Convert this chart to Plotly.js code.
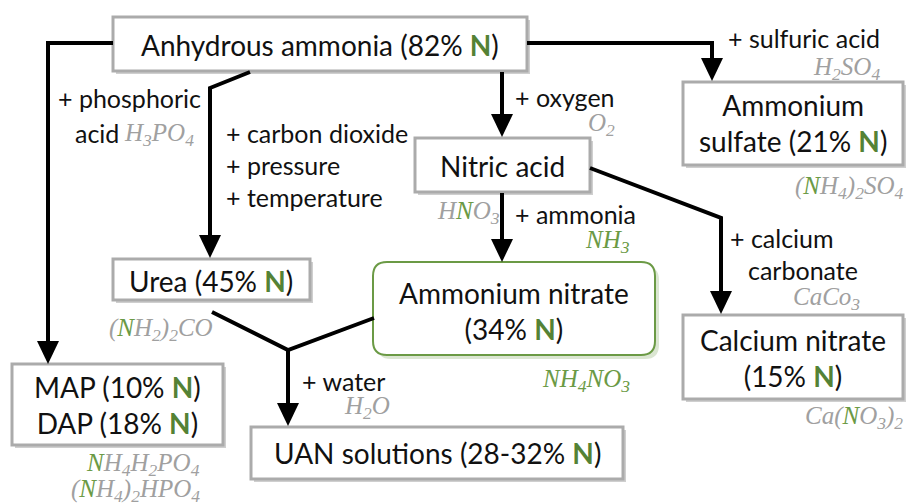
<!DOCTYPE html>
<html><head><meta charset="utf-8">
<script src="https://cdn.plot.ly/plotly-3.0.1.min.js"></script>
<style>body{margin:0;background:#fff}#chart{width:906px;height:504px}</style>
</head><body><div id="chart"></div>
<script>
// ---- data: node names, N content and formulas ----
const nodeNames = ["Anhydrous ammonia", "Ammonium<br>sulfate", "Nitric acid", "Urea", "Ammonium nitrate", "Calcium nitrate", "MAP", "DAP", "UAN solutions"];
const nodeN = ["82%", "21%", "", "45%", "34%", "15%", "10%", "18%", "28-32%"];
const reagentLabels = ["+ phosphoric", "acid", "+ carbon dioxide", "+ pressure", "+ temperature", "+ oxygen", "+ sulfuric acid", "+ ammonia", "+ calcium", "carbonate", "+ water"];
const formulas = ["H3PO4", "O2", "H2SO4", "HNO3", "NH3", "CaCo3", "(NH2)2CO", "NH4NO3", "(NH4)2SO4", "Ca(NO3)2", "NH4H2PO4", "(NH4)2HPO4", "H2O"];

// ---- layout geometry (pixel space) ----
const G = "#548235", GL = "#6b9a45", GR = "#a0a0a0";
const FONT = "Lato, sans-serif", MATH = "'Liberation Serif', serif";
const FS = 28, RS = 25, MS = 25;
const shapes = [], ann = [];
function box(x0, y0, x1, y1) {
  shapes.push({type: "rect", x0: x0 + 3, y0: y0 + 3, x1: x1 + 3, y1: y1 + 3, line: {width: 0}, fillcolor: "#cfcfcf", layer: "below"});
  shapes.push({type: "rect", x0: x0, y0: y0, x1: x1, y1: y1, line: {width: 3, color: "#ababab"}, fillcolor: "#fff", layer: "below"});
}
function rbox(x0, y0, x1, y1, r) {
  const p = (a, b, c, d) => `M${a + r},${b} L${c - r},${b} Q${c},${b} ${c},${b + r} L${c},${d - r} Q${c},${d} ${c - r},${d} L${a + r},${d} Q${a},${d} ${a},${d - r} L${a},${b + r} Q${a},${b} ${a + r},${b} Z`;
  shapes.push({type: "path", path: p(x0 + 4, y0 + 4, x1 + 4, y1 + 4), line: {width: 0}, fillcolor: "#dbe6d2", layer: "below"});
  shapes.push({type: "path", path: p(x0, y0, x1, y1), line: {width: 2, color: GL}, fillcolor: "#fff", layer: "below"});
}
function line(pts) {
  shapes.push({type: "path", path: "M" + pts.map(p => p.join(",")).join(" L"), line: {width: 4, color: "#000"}});
}
function head(x, y) {
  shapes.push({type: "path", path: `M${x - 11},${y - 23} L${x + 11},${y - 23} L${x},${y} Z`, line: {width: 0}, fillcolor: "#000"});
}
function txt(x, y, t, o, size) {
  ann.push(Object.assign({x: x, y: y, text: t, showarrow: false, xanchor: "center", yanchor: "middle", font: {family: FONT, size: size || FS, color: "#111"}}, o || {}));
}
const Nb = `<b><span style="color:${G}">N</span></b>`;
const lab = i => `${nodeNames[i]} (${nodeN[i]} ${Nb})`;
function fm(f, allGreen) {
  let s = "";
  for (let i = 0; i < f.length; i++) {
    const c = f[i];
    if (/[0-9]/.test(c)) s += `<sub>${c}</sub>`;
    else if (c === "N" && !allGreen) s += `<span style="color:${GL}">N</span>`;
    else s += c;
  }
  return `<i>${s}</i>`;
}
function ftx(x, y, f, anchor, allGreen) {
  ann.push({x: x, y: y, text: fm(f, allGreen), showarrow: false, xanchor: anchor, yanchor: "middle", font: {family: MATH, size: MS, color: allGreen ? GL : GR}});
}

// lines & arrows
line([[113, 43], [48, 43], [48, 345]]); head(48, 364);
line([[250, 72], [210, 88], [210, 238]]); head(210, 258);
line([[502, 72], [502, 118]]); head(502, 137);
line([[527, 43], [712, 43], [712, 62]]); head(712, 81);
line([[502, 193], [502, 242]]); head(502, 262);
line([[590, 168], [721, 218], [721, 295]]); head(721, 314);
line([[212, 312], [288, 350], [374, 318]]);
line([[288, 350], [288, 405]]); head(288, 426);

// boxes
box(113, 17, 527, 71);
box(683, 82, 903, 165);
box(415, 138, 590, 192);
box(113, 259, 310, 300);
rbox(373, 262, 655, 355, 14);
box(683, 315, 903, 399);
box(12, 364, 223, 445);
box(251, 427, 623, 479);

// node texts
txt(320, 45, lab(0));
txt(793, 123, lab(1));
txt(502, 166, nodeNames[2]);
txt(211, 281, lab(3));
txt(514, 311, `${nodeNames[4]}<br>(${nodeN[4]} ${Nb})`);
txt(793, 358, `${nodeNames[5]}<br>(${nodeN[5]} ${Nb})`);
txt(117, 405, `${lab(6)}<br>${lab(7)}`);
txt(437, 453, lab(8));

// reagent labels
const L = {xanchor: "left"};
txt(56, 98, reagentLabels[0], L, RS);
txt(73, 133, reagentLabels[1], L, RS);
txt(224, 133, reagentLabels[2], L, RS);
txt(224, 165, reagentLabels[3], L, RS);
txt(224, 197, reagentLabels[4], L, RS);
txt(513, 97, reagentLabels[5], L, RS);
txt(726, 38, reagentLabels[6], L, RS);
txt(513, 214, reagentLabels[7], L, RS);
txt(728, 238, reagentLabels[8], L, RS);
txt(746, 270, reagentLabels[9], L, RS);
txt(300, 381, reagentLabels[10], L, RS);

// formulas
ftx(196, 134, formulas[0], "right");
ftx(617, 124, formulas[1], "right");
ftx(882, 68, formulas[2], "right");
ftx(502, 212, formulas[3], "right");
ftx(632, 241, formulas[4], "right", true);
ftx(862, 298, formulas[5], "right");
ftx(215, 329, formulas[6], "right");
ftx(632, 380, formulas[7], "right", true);
ftx(905, 187, formulas[8], "right");
ftx(905, 417, formulas[9], "right");
ftx(202, 464, formulas[10], "right");
ftx(202, 490, formulas[11], "right");
ftx(392, 407, formulas[12], "right");

const layout = {
  width: 906, height: 504, margin: {l: 0, r: 0, t: 0, b: 0},
  paper_bgcolor: "#fff", plot_bgcolor: "#fff", showlegend: false,
  xaxis: {range: [0, 906], visible: false, fixedrange: true},
  yaxis: {range: [504, 0], visible: false, fixedrange: true},
  shapes: shapes, annotations: ann
};
Plotly.newPlot("chart", [{x: [0], y: [0], mode: "markers", marker: {opacity: 0}, hoverinfo: "skip"}], layout, {displayModeBar: false, staticPlot: true});
</script></body></html>
